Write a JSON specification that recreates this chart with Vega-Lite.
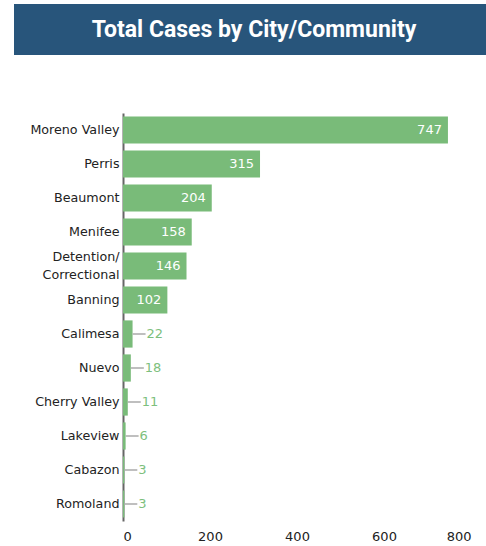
{
  "$schema": "https://vega.github.io/schema/vega-lite/v6.json",
  "padding": {"left": 14, "top": 4, "right": 0, "bottom": 0},
  "background": "white",
  "spacing": 58,
  "config": {"view": {"stroke": null}, "font": "DejaVu Sans"},
  "vconcat": [
    {
      "width": 472,
      "height": 51,
      "view": {"fill": "#28557b", "stroke": null},
      "data": {"values": [{"title": "Total Cases by City/Community"}]},
      "mark": {"type": "text", "color": "white", "font": "Roboto", "fontWeight": "bold", "fontSize": 23, "baseline": "middle", "align": "center", "dx": 4},
      "encoding": {"text": {"field": "title"}}
    },
    {
      "width": 457,
      "height": 408,
      "data": {"values": [
        {"city": "Moreno Valley", "cases": 747},
        {"city": "Perris", "cases": 315},
        {"city": "Beaumont", "cases": 204},
        {"city": "Menifee", "cases": 158},
        {"city": "Detention/Correctional", "cases": 146},
        {"city": "Banning", "cases": 102},
        {"city": "Calimesa", "cases": 22},
        {"city": "Nuevo", "cases": 18},
        {"city": "Cherry Valley", "cases": 11},
        {"city": "Lakeview", "cases": 6},
        {"city": "Cabazon", "cases": 3},
        {"city": "Romoland", "cases": 3}
      ]},
      "encoding": {
        "y": {
          "field": "city", "type": "nominal", "sort": null,
          "scale": {"paddingInner": 0.2, "paddingOuter": 0.1},
          "axis": {
            "title": null, "ticks": false, "domainColor": "#666", "domainWidth": 2,
            "offset": -109,
            "labelFontSize": 12.7, "labelColor": "#222", "labelPadding": 4, "labelLineHeight": 18,
            "labelOffset": {"condition": {"test": "datum.value == 'Detention/Correctional'", "value": -9}, "value": 0},
            "labelExpr": "datum.value == 'Detention/Correctional' ? ['Detention/', 'Correctional'] : datum.label"
          }
        },
        "x": {
          "field": "cases", "type": "quantitative",
          "scale": {"domain": [0, 800], "nice": false, "range": [109, 457]},
          "axis": {
            "title": null, "values": [0, 200, 400, 600, 800], "grid": false, "domain": false, "ticks": false,
            "labelFontSize": 13, "labelColor": "#222", "labelPadding": 9
          }
        }
      },
      "layer": [
        {"mark": {"type": "bar", "color": "#79bb79"}},
        {
          "transform": [{"filter": "datum.cases >= 100"}],
          "mark": {"type": "text", "align": "right", "baseline": "middle", "dx": -6, "color": "white", "fontSize": 13},
          "encoding": {"text": {"field": "cases"}}
        },
        {
          "transform": [{"filter": "datum.cases < 100"}],
          "mark": {"type": "rule", "color": "#aaaaaa", "strokeWidth": 1.5, "x2Offset": 13},
          "encoding": {"x2": {"field": "cases"}}
        },
        {
          "transform": [{"filter": "datum.cases < 100"}],
          "mark": {"type": "text", "align": "left", "baseline": "middle", "dx": 14, "color": "#7dbf7d", "fontSize": 13},
          "encoding": {"text": {"field": "cases"}}
        }
      ]
    }
  ]
}
